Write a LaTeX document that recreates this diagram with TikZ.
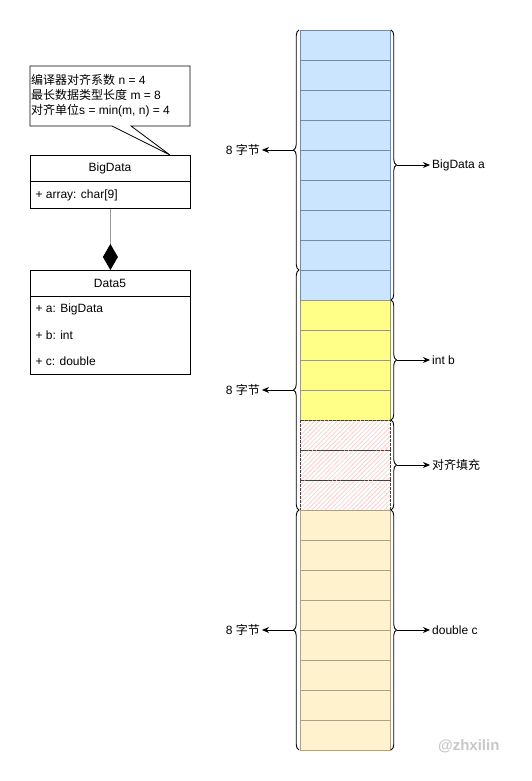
\documentclass[tikz,border=0pt]{standalone}
\usepackage{fontspec}
\setmainfont{Liberation Sans}
\newfontfamily\cjk{Noto Sans CJK SC}
\usetikzlibrary{arrows.meta,decorations.pathreplacing,patterns.meta}
\newcommand{\zh}[1]{{\cjk #1}}
\definecolor{bluefill}{HTML}{CCE5FF}
\definecolor{bluedraw}{HTML}{7489A3}
\definecolor{yelfill}{HTML}{FFFF88}
\definecolor{yeldraw}{HTML}{9C9C6A}
\definecolor{padhatch}{HTML}{F6CFCD}
\definecolor{begfill}{HTML}{FFF2CC}
\definecolor{begdraw}{HTML}{ADA083}

\begin{document}
\begin{tikzpicture}[x=1pt,y=-1pt,
  every node/.style={font=\fontsize{12}{15}\selectfont},
  classbox/.style={draw,line width=0.8pt,minimum width=160pt,inner sep=0pt,anchor=north west},
  bluecell/.style={fill=bluefill,draw=bluedraw,line width=0.8pt},
  yelcell/.style={fill=yelfill,draw=yeldraw,line width=0.8pt},
  padcell/.style={pattern={Lines[angle=45,distance=3.2pt,line width=0.8pt]},pattern color=padhatch,draw=black!75,line width=0.7pt,dash pattern=on 3pt off 1pt},
  begcell/.style={fill=begfill,draw=begdraw,line width=0.8pt},
  bracel/.style={decorate,decoration={brace,amplitude=5.5pt},line width=0.9pt},
  conn/.style={-{Stealth[length=7pt,width=6pt]},line width=0.9pt},
  lbl/.style={inner xsep=2pt}]
\useasboundingbox (0,0) rectangle (531,781);

% uml part
\node[classbox,minimum height=53pt] (bigdata) at (30,155) {};
\node[classbox,minimum height=104pt] (data5) at (30,270) {};
\draw[line width=0.8pt] (30,181) -- (190,181);
\draw[line width=0.8pt] (30,296) -- (190,296);
\node (bdname) at (110,168) {BigData};
\node[anchor=west] (bdarr) at (32,195) {+ array: char[9]};
\node (d5name) at (110,283) {Data5};
\node[anchor=west] (d5a) at (32,309) {+ a: BigData};
\node[anchor=west] (d5b) at (32,335) {+ b: int};
\node[anchor=west] (d5c) at (32,361) {+ c: double};
\draw[gray!80,line width=1pt,-{Diamond[length=26pt,width=15pt,color=black,fill=black]}] (bigdata.south) -- (data5.north);

% note
\coordinate (tip) at (170,155);
\draw[line width=0.8pt,fill=white] (30,66) -- (190,66) -- (190,126) -- (131,126) -- (tip) -- (112,126) -- (30,126) -- cycle;
\node[anchor=west,align=left,inner sep=0pt] (note) at (31,95.5)
  {\zh{编译器对齐系数} n = 4\\\zh{最长数据类型长度} m = 8\\\zh{对齐单位}s = min(m, n) = 4};

% memory
\foreach \r in {0,...,8} \draw[bluecell] (300,30+30*\r) rectangle +(90,30);
\foreach \r in {9,...,12} \draw[yelcell] (300,30+30*\r) rectangle +(90,30);
\foreach \r in {13,14,15} \draw[padcell] (300,30+30*\r) rectangle +(90,30);
\foreach \r in {16,...,23} \draw[begcell] (300,30+30*\r) rectangle +(90,30);

% braces
\draw[bracel] (299,270) -- (299,30);
\draw[bracel] (299,510) -- (299,270);
\draw[bracel] (299,750) -- (299,510);
\draw[bracel] (391,30) -- (391,300);
\draw[bracel] (391,300) -- (391,420);
\draw[bracel] (391,420) -- (391,510);
\draw[bracel] (391,510) -- (391,750);

\coordinate (lb1) at (293.5,150);
\coordinate (lb2) at (293.5,390);
\coordinate (lb3) at (293.5,630);
\coordinate (rb1) at (396.5,165);
\coordinate (rb2) at (396.5,360);
\coordinate (rb3) at (396.5,465);
\coordinate (rb4) at (396.5,630);

\node[lbl,anchor=east] (lt1) at (262,150) {8 \zh{字节}};
\node[lbl,anchor=east] (lt2) at (262,390) {8 \zh{字节}};
\node[lbl,anchor=east] (lt3) at (262,630) {8 \zh{字节}};
\node[lbl,anchor=west] (rt1) at (430,165) {BigData a};
\node[lbl,anchor=west] (rt2) at (430,360) {int b};
\node[lbl,anchor=west] (rt3) at (430,465) {\zh{对齐填充}};
\node[lbl,anchor=west] (rt4) at (430,630) {double c};

\foreach \a/\b in {lb1/lt1,lb2/lt2,lb3/lt3,rb1/rt1,rb2/rt2,rb3/rt3,rb4/rt4}
  \draw[conn] (\a) -- (\b);

\node[text=black!22,font=\bfseries\fontsize{15}{18}\selectfont,anchor=east] (mark) at (503,746) {@zhxilin};
\end{tikzpicture}
\end{document}
